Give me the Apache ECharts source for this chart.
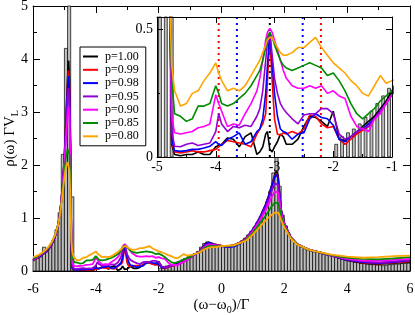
<!DOCTYPE html>
<html><head><meta charset="utf-8">
<script src="https://cdn.jsdelivr.net/npm/echarts@6/dist/echarts.min.js"></script>
<style>html,body{margin:0;padding:0;background:#fff}#c{width:415px;height:315px}</style>
</head><body><div id="c"></div>
<script>
// ---- data ----
const X = [
 -6,-5.9,-5.8,-5.7,-5.6,-5.5,-5.4,-5.3,-5.2,
 -5.15,-5.1,-5.05,-5.0,-4.95,-4.9,-4.87,-4.84,-4.81,-4.78,-4.75,
 -4.7,-4.6,-4.5,-4.4,-4.3,-4.2,-4.1,-4.0,-3.95,-3.9,-3.8,-3.7,-3.6,-3.5,-3.4,-3.3,
 -3.25,-3.2,-3.15,-3.12,-3.08,-3.04,-3.0,-2.95,-2.9,-2.85,
 -2.8,-2.7,-2.6,-2.5,-2.4,-2.3,-2.2,-2.1,-2.0,-1.9,-1.8,-1.7,-1.6,-1.5,-1.4,-1.3,-1.2,-1.1,-1.0,
 -0.9,-0.8,-0.7,-0.6,-0.5,-0.4,-0.3,-0.2,-0.1,0,0.2,0.4,0.6,0.8,1.0,1.2,1.4,1.5,1.6,1.7,1.75,1.8,1.85,1.9,2.0,
 2.2,2.4,2.6,2.8,3.0,3.5,4.0,4.5,5.0,5.5,6.0
];
const p100 = [
 0.20,0.23,0.26,0.31,0.35,0.41,0.50,0.64,0.86,
 1.05,1.32,1.68,2.15,2.85,3.60,3.97,3.60,2.40,0.60,0.05,
 .01,.005,.01,.01,.02,.01,.01,.04,.045,.05,.075,.07,.04,.08,.095,.01,
 .02,.04,.09,.10,.03,.02,.04,.06,.09,.08,
 .05,.05,.07,.12,.16,.155,.14,.12,.18,.07,.065,.08,.095,.12,.14,.16,.19,.22,.26,
 .30,.33,.37,.45,.52,.54,.52,.50,.49,.48,.47,.49,.54,.63,.78,.98,1.25,1.42,1.62,1.82,1.88,1.80,1.45,1.15,0.90,
 .64,.51,.45,.40,.37,.29,.20,.15,.13,.15,.17
];
const p099 = [
 0.21,0.23,0.27,0.32,0.36,0.42,0.51,0.65,0.87,
 1.05,1.32,1.68,2.14,2.80,3.50,3.78,3.45,2.35,0.60,0.06,
 .02,.016,.02,.025,.02,.02,.025,.03,.04,.05,.065,.06,.055,.05,.04,.09,
 .11,.13,.17,.30,.47,.30,.15,.09,.085,.095,
 .09,.10,.09,.11,.165,.16,.13,.115,.12,.07,.05,.07,.09,.105,.12,.15,.18,.21,.245,
 .30,.33,.37,.44,.51,.53,.51,.50,.49,.48,.47,.49,.54,.63,.78,.98,1.24,1.40,1.60,1.79,1.84,1.76,1.43,1.14,0.90,
 .64,.51,.45,.40,.37,.29,.21,.16,.14,.16,.18
];
const p098 = [
 0.21,0.24,0.27,0.32,0.36,0.42,0.51,0.65,0.87,
 1.05,1.32,1.67,2.12,2.75,3.42,3.68,3.38,2.30,0.60,0.07,
 .025,.022,.025,.03,.03,.035,.042,.06,.05,.045,.07,.08,.095,.05,.06,.10,
 .11,.15,.25,.36,.49,.37,.25,.16,.11,.10,
 .095,.07,.09,.095,.15,.17,.155,.15,.125,.07,.06,.08,.10,.11,.13,.15,.18,.21,.245,
 .30,.33,.37,.44,.51,.53,.51,.49,.48,.47,.45,.46,.52,.62,.78,.98,1.24,1.40,1.60,1.78,1.82,1.75,1.43,1.14,0.90,
 .64,.51,.45,.40,.37,.29,.21,.17,.15,.17,.20
];
const p095 = [
 0.22,0.24,0.28,0.33,0.37,0.43,0.52,0.66,0.88,
 1.05,1.31,1.65,2.08,2.65,3.25,3.45,3.20,2.25,0.65,0.10,
 .042,.04,.05,.055,.045,.05,.055,.10,.17,.13,.10,.12,.115,.125,.12,.16,
 .19,.26,.38,.45,.49,.40,.31,.25,.21,.19,
 .175,.15,.13,.165,.17,.17,.19,.19,.17,.09,.07,.08,.10,.11,.12,.15,.18,.21,.245,
 .30,.33,.36,.43,.49,.51,.50,.49,.48,.47,.46,.48,.53,.62,.77,.96,1.20,1.35,1.52,1.65,1.68,1.63,1.38,1.12,0.89,
 .64,.51,.45,.40,.37,.29,.22,.18,.16,.18,.21
];
const p090 = [
 0.23,0.25,0.29,0.33,0.38,0.44,0.53,0.67,0.88,
 1.04,1.30,1.62,2.02,2.50,2.95,3.10,2.90,2.10,0.65,0.16,
 .095,.09,.095,.10,.115,.12,.13,.245,.21,.18,.12,.13,.125,.17,.21,.26,
 .31,.38,.46,.49,.505,.49,.46,.42,.38,.34,
 .31,.28,.27,.27,.28,.27,.28,.25,.26,.24,.23,.16,.12,.11,.10,.15,.17,.21,.245,
 .31,.33,.36,.42,.47,.49,.49,.48,.48,.47,.47,.48,.53,.61,.75,.93,1.14,1.27,1.40,1.50,1.52,1.48,1.30,1.08,0.88,
 .64,.51,.45,.40,.37,.30,.23,.20,.19,.21,.23
];
const p085 = [
 0.24,0.26,0.30,0.34,0.39,0.45,0.54,0.68,0.88,
 1.03,1.27,1.55,1.88,2.15,2.30,2.33,2.20,1.60,0.60,0.30,
 .17,.16,.14,.15,.20,.20,.21,.28,.25,.21,.20,.21,.23,.25,.28,.32,
 .34,.38,.43,.47,.49,.47,.44,.41,.38,.36,
 .35,.34,.35,.36,.37,.36,.35,.32,.33,.30,.26,.21,.17,.15,.17,.19,.22,.24,.26,
 .31,.33,.35,.40,.45,.47,.47,.47,.47,.47,.47,.48,.53,.60,.72,.88,1.04,1.13,1.22,1.29,1.30,1.28,1.17,1.02,0.85,
 .63,.51,.45,.40,.37,.30,.25,.23,.22,.24,.26
];
const p080 = [
 0.26,0.28,0.31,0.35,0.40,0.46,0.55,0.68,0.87,
 1.02,1.25,1.50,1.78,1.98,2.05,2.03,1.90,1.40,0.60,0.36,
 .26,.20,.21,.25,.26,.30,.33,.37,.33,.30,.26,.27,.26,.28,.32,.36,
 .38,.41,.44,.46,.47,.47,.45,.43,.41,.40,
 .40,.41,.43,.43,.45,.47,.43,.40,.37,.35,.33,.30,.28,.25,.24,.28,.32,.29,.30,
 .31,.33,.35,.39,.42,.44,.45,.45,.46,.47,.48,.49,.53,.58,.69,.82,0.95,1.01,1.06,1.10,1.11,1.10,1.04,0.96,0.82,
 .62,.50,.45,.40,.37,.31,.27,.25,.26,.28,.29
];
const seriesNames = ['p=1.00','p=0.99','p=0.98','p=0.95','p=0.90','p=0.85','p=0.80'];
const seriesValues = [p100,p099,p098,p095,p090,p085,p080];
const seriesColors = ['#000000','#ff0000','#0000ff','#9400d3','#ff00ff','#008b00','#ffa500'];

// histogram, bins of width 0.1 starting at -6
const HIST_X0 = -6, HIST_BIN = 0.1;
const hist = [
 0.22,0.24,0.27,0.45,0.36,0.45,0.58,0.78,1.10,2.20,   // -6.0 .. -5.0
 4.20,5.50,1.40,0,0,0,0,0,0,0,                        // -5.0 .. -4.0
 0,0,0,0,0,0,0,0,0,0,                                 // -4.0 .. -3.0
 0,0,0,0,0,0,0,0,0,0,                                 // -3.0 .. -2.0
 0.05,0.08,0.095,0.11,0.13,0.155,0.18,0.21,0.24,0.27, // -2.0 .. -1.0
 0.30,0.33,0.37,0.45,0.52,0.55,0.52,0.50,0.48,0.47,   // -1.0 .. 0
 0.46,0.45,0.46,0.48,0.50,0.53,0.57,0.62,0.68,0.75,   // 0 .. 1
 0.83,0.92,1.03,1.15,1.30,1.50,1.85,2.20,1.60,1.05,   // 1 .. 2
 0.85,0.70,0.60,0.53,0.48,0.45,0.42,0.40,0.38,0.36,   // 2 .. 3
 0.35,0.34,0.32,0.31,0.30,0.29,0.28,0.26,0.25,0.23,   // 3 .. 4
 0.21,0.19,0.17,0.16,0.15,0.14,0.13,0.12,0.12,0.11,   // 4 .. 5
 0.11,0.10,0.11,0.12,0.12,0.13,0.13,0.14,0.15,0.15    // 5 .. 6
];
// dotted marker positions in the inset
const blackDots = [-3.08];
const redDots = [-3.95, -2.21];
const blueDots = [-3.64, -2.52];

// ---- chart ----
const FONT = 'Liberation Serif';
const histData = hist.map((h,i)=>[HIST_X0 + HIST_BIN*(i+0.5), h]);
function makeHistRender(frac){
  return function(params, api){
    const c = api.value(0), h = api.value(1);
    if (h <= 0) return;
    const half = frac*HIST_BIN/2;
    const a = api.coord([c-half, h]);
    const b = api.coord([c+half, 0]);
    const cs = params.coordSys;
    const r = echarts.graphic.clipRectByRect(
      {x:a[0], y:a[1], width:b[0]-a[0], height:b[1]-a[1]},
      {x:cs.x, y:cs.y, width:cs.width, height:cs.height});
    if (!r) return;
    return {type:'rect', shape:r, style:{fill:'#bdbdbd', stroke:'#000', lineWidth:0.7}};
  };
}
function axisCommon(extra){
  return Object.assign({
    type:'value',
    axisLine:{show:true, onZero:false, lineStyle:{color:'#000', width:1}},
    axisTick:{show:true, inside:true, length:7, lineStyle:{color:'#000'}},
    minorTick:{show:true, splitNumber:2, length:4, lineStyle:{color:'#000'}},
    splitLine:{show:false},
    axisLabel:{color:'#000', fontFamily:FONT, fontSize:14}
  }, extra);
}
const series = [];
series.push({type:'custom', xAxisIndex:0, yAxisIndex:0, data:histData, renderItem:makeHistRender(1.0), z:2, silent:true});
seriesValues.forEach((vals,k)=>{
  series.push({type:'line', name:seriesNames[k], xAxisIndex:0, yAxisIndex:0,
    data:X.map((x,i)=>[x, vals[i]]), showSymbol:false, symbol:'none',
    lineStyle:{color:seriesColors[k], width:1.8}, itemStyle:{color:seriesColors[k]}, z:3, silent:true});
});
// inset
series.push({type:'custom', xAxisIndex:2, yAxisIndex:2, data:histData, renderItem:makeHistRender(0.5), z:6, silent:true});
function dots(list, color){
  list.forEach(x=>{
    series.push({type:'line', name:'dots', xAxisIndex:2, yAxisIndex:2, data:[[x,0],[x,0.55]],
      symbol:'none', lineStyle:{color:color, width:2, type:[2,4]}, z:6, silent:true});
  });
}
dots(blackDots,'#000'); dots(redDots,'#ff0000'); dots(blueDots,'#0000ff');
seriesValues.forEach((vals,k)=>{
  series.push({type:'line', name:seriesNames[k], xAxisIndex:2, yAxisIndex:2,
    data:X.map((x,i)=>[x, vals[i]]), showSymbol:false, symbol:'none', clip:true,
    lineStyle:{color:seriesColors[k], width:1.6}, itemStyle:{color:seriesColors[k]}, z:7, silent:true});
});

const insetTick = {show:true, inside:true, length:6, lineStyle:{color:'#000'}};
const insetMinor = {show:true, splitNumber:2, length:3, lineStyle:{color:'#000'}};
const option = {
  animation:false,
  backgroundColor:'#fff',
  textStyle:{fontFamily:FONT},
  grid:[
    {left:33, top:6, right:5, bottom:44, containLabel:false, outerBoundsMode:'none'},
    {left:157, top:17, width:235, height:140, show:true, backgroundColor:'#fff', borderWidth:0, z:5, containLabel:false, outerBoundsMode:'none'}
  ],
  xAxis:[
    axisCommon({gridIndex:0, min:-6, max:6, interval:2, axisLabel:{color:'#000', fontFamily:FONT, fontSize:14, margin:11},
      name:'{a|(ω−ω}{s|0}{a|)/Γ}', nameLocation:'middle', nameGap:24, nameMoveOverlap:false,
      nameTextStyle:{color:'#000', rich:{a:{fontFamily:FONT, fontSize:15, lineHeight:20, verticalAlign:'middle', color:'#000'},
                                          s:{fontFamily:FONT, fontSize:10, lineHeight:20, verticalAlign:'bottom', color:'#000'}}}}),
    axisCommon({gridIndex:0, min:-6, max:6, interval:2, position:'top', axisLabel:{show:false}}),
    axisCommon({gridIndex:1, min:-5, max:-1, interval:1, z:8, axisTick:insetTick, minorTick:insetMinor,
      axisLabel:{color:'#000', fontFamily:FONT, fontSize:14, margin:3}}),
    axisCommon({gridIndex:1, min:-5, max:-1, interval:1, z:8, position:'top', axisLabel:{show:false},
      axisTick:insetTick, minorTick:insetMinor})
  ],
  yAxis:[
    axisCommon({gridIndex:0, min:0, max:5, interval:1, axisLabel:{color:'#000', fontFamily:FONT, fontSize:14, margin:5},
      name:'{a|ρ(ω) ΓV}{s|L}', nameLocation:'middle', nameGap:13, nameRotate:90, nameMoveOverlap:false,
      nameTextStyle:{color:'#000', rich:{a:{fontFamily:FONT, fontSize:15, lineHeight:20, verticalAlign:'middle', color:'#000'},
                                          s:{fontFamily:FONT, fontSize:10, lineHeight:20, verticalAlign:'bottom', color:'#000'}}}}),
    axisCommon({gridIndex:0, min:0, max:5, interval:1, position:'right', axisLabel:{show:false}}),
    axisCommon({gridIndex:1, min:0, max:0.55, interval:0.5, z:8, axisTick:insetTick, minorTick:insetMinor,
      axisLabel:{color:'#000', fontFamily:FONT, fontSize:14, margin:4, showMaxLabel:false}}),
    axisCommon({gridIndex:1, min:0, max:0.55, interval:0.5, z:8, position:'right', axisLabel:{show:false},
      axisTick:insetTick, minorTick:insetMinor})
  ],
  legend:{
    show:true, left:80, top:47, orient:'vertical',
    data:seriesNames.map(n=>({name:n, icon:'rect'})),
    itemWidth:15, itemHeight:2, itemGap:0.3,
    padding:[3,7,3,3],
    borderColor:'#000', borderWidth:1, backgroundColor:'#fff',
    textStyle:{fontFamily:FONT, fontSize:12, color:'#000', lineHeight:13, padding:[0,0,0,2]},
    selectedMode:false, z:4
  },
  series:series
};
const chart = echarts.init(document.getElementById('c'), null, {renderer:'canvas'});
chart.setOption(option);
</script>
</body></html>
